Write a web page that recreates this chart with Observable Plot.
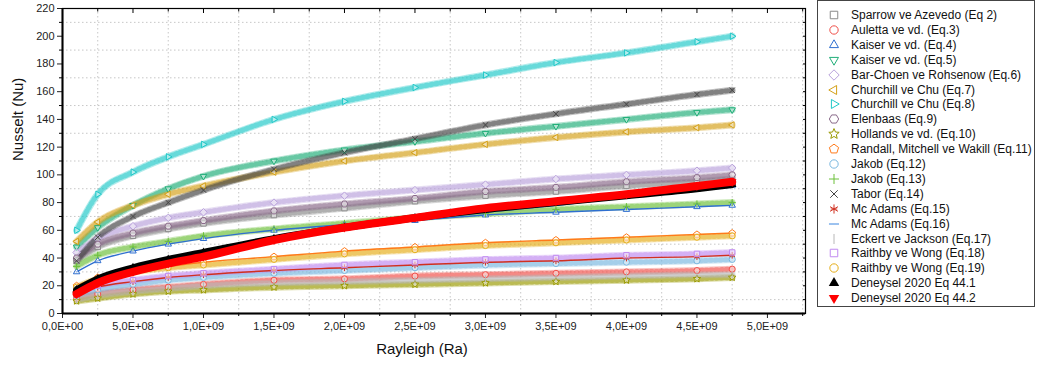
<!DOCTYPE html>
<html><head><meta charset="utf-8">
<script src="https://cdn.jsdelivr.net/npm/d3@7"></script>
<script src="https://cdn.jsdelivr.net/npm/@observablehq/plot@0.6"></script>
<style>
body{margin:0;background:#fff;font-family:"Liberation Sans",Arial,sans-serif;}
#wrap{position:relative;width:1040px;height:369px;overflow:hidden;}
#chart{position:absolute;left:0;top:0;}
#legend{position:absolute;left:817px;top:0px;width:218px;height:307px;border:1px solid #444;box-sizing:border-box;background:#fff;}
.row{position:absolute;left:0;height:15px;display:flex;align-items:center;font-size:12px;color:#111;white-space:nowrap;}
.row svg{margin-left:9px;margin-right:10px;overflow:visible}
</style></head><body>
<div id="wrap"><div id="chart"></div><div id="legend"></div></div>
<script>
// ---- data ----
const rayleigh = [0.1e9, 0.25e9, 0.5e9, 0.75e9, 1.0e9, 1.5e9, 2.0e9, 2.5e9, 3.0e9, 3.5e9, 4.0e9, 4.5e9, 4.75e9];
const sparrow    = [38, 48, 56, 61, 65, 71, 76, 81, 85, 88, 92, 95, 97];
const auletta    = [11, 14, 17, 19, 21, 24, 25, 27, 28, 29, 30, 31, 32];
const kaiser4    = [30, 38, 45, 50, 54, 60, 64, 67, 71, 73, 75, 77, 78];
const kaiser5    = [48, 62, 78, 90, 99, 110, 118, 124, 130, 135, 140, 145, 147];
const barChoen   = [44, 54, 63, 69, 73, 80, 85, 89, 93, 97, 100, 103, 105];
const churchill7 = [52, 66, 78, 86, 92, 102, 110, 116, 122, 127, 131, 134, 136];
const churchill8 = [60, 86, 102, 113, 122, 140, 153, 163, 172, 181, 188, 196, 200];
const elenbaas   = [40, 50, 58, 63, 67, 74, 79, 83, 88, 91, 95, 98, 100];
const hollands   = [9, 11, 14, 16, 17, 19, 20, 21, 22, 23, 24, 25, 26];
const randall    = [20, 26, 31, 34, 37, 41, 45, 48, 51, 53, 55, 57, 58];
const jakob12    = [13, 17, 21, 24, 26, 29, 31, 33, 35, 36, 37, 38, 39];
const jakob13    = [34, 42, 48, 52, 56, 61, 65, 69, 72, 75, 77, 79, 80];
const tabor      = [38, 55, 70, 80, 89, 104, 116, 126, 136, 144, 151, 158, 161];
const mcAdams15  = [14, 19, 23, 26, 28, 31, 33, 35, 37, 38, 40, 41, 42];
const mcAdams16  = [19, 26, 33, 38, 43, 52, 60, 67, 73, 78, 84, 89, 91];
const eckert     = [10, 13, 16, 18, 20, 22, 23, 24, 25, 26, 27, 28, 28];
const raithby18  = [15, 20, 24, 27, 29, 32, 35, 37, 39, 40, 42, 43, 44];
const raithby19  = [19, 25, 30, 33, 35, 39, 43, 46, 49, 51, 53, 55, 56];
const deney441   = [17, 25, 33, 39, 44, 54, 62, 69, 75, 80, 85, 90, 93];
const deney442   = [14, 22, 30, 36, 41, 53, 62, 69, 76, 81, 86, 92, 95];

const seriesNames = [
  "Sparrow ve Azevedo (Eq 2)", "Auletta ve vd. (Eq.3)", "Kaiser ve vd. (Eq.4)", "Kaiser ve vd. (Eq.5)",
  "Bar-Choen ve Rohsenow (Eq.6)", "Churchill ve Chu (Eq.7)", "Churchill ve Chu (Eq.8)", "Elenbaas (Eq.9)",
  "Hollands ve vd. (Eq.10)", "Randall, Mitchell ve Wakill (Eq.11)", "Jakob (Eq.12)", "Jakob (Eq.13)",
  "Tabor (Eq.14)", "Mc Adams (Eq.15)", "Mc Adams (Eq.16)", "Eckert ve Jackson (Eq.17)",
  "Raithby  ve Wong (Eq.18)", "Raithby  ve Wong (Eq.19)", "Deneysel 2020 Eq 44.1", "Deneysel 2020 Eq 44.2"
];
const seriesValues = [sparrow, auletta, kaiser4, kaiser5, barChoen, churchill7, churchill8, elenbaas,
  hollands, randall, jakob12, jakob13, tabor, mcAdams15, mcAdams16, eckert, raithby18, raithby19, deney441, deney442];

const xTickValues = d3.range(0, 5.01e9, 5e8);
const yTickValues = d3.range(0, 221, 20);

// ---- styles ----
const colors = ["#8a8a8a", "#f0504a", "#2f6fd0", "#1fae78", "#b9a2dc", "#d4a017", "#1fc8c8", "#8a6a8a",
  "#9a9a00", "#ff7a1a", "#7ab8e0", "#6cc03a", "#444444", "#d03020", "#3a86e0", "#b8b8b8",
  "#c08af0", "#e6ae1a", "#000000", "#ff0000"];
const thinLine = [2, 9, 13, 14]; // series drawn as thin lines in the reference

function poly(angles, k = 0.62) {
  return {draw(ctx, size) {
    const r = Math.sqrt(size) * k;
    angles.forEach((a, i) => { const t = a * Math.PI / 180; const px = r * Math.cos(t), py = r * Math.sin(t); i ? ctx.lineTo(px, py) : ctx.moveTo(px, py); });
    ctx.closePath();
  }};
}
function starSym(k) {
  return {draw(ctx, size) {
    const R = Math.sqrt(size) * k, r = R * 0.45;
    for (let i = 0; i < 10; i++) { const t = (-90 + i * 36) * Math.PI / 180; const rr = i % 2 ? r : R; i ? ctx.lineTo(rr * Math.cos(t), rr * Math.sin(t)) : ctx.moveTo(rr * Math.cos(t), rr * Math.sin(t)); }
    ctx.closePath();
  }};
}
const triUp = poly([-90, 30, 150]);
const triDown = poly([90, 210, 330]);
const triLeft = poly([180, 300, 60]);
const triRight = poly([0, 120, 240]);
const pentagon = poly([-90, -18, 54, 126, 198], 0.58);
const hexagon = poly([0, 60, 120, 180, 240, 300], 0.56);
const star = starSym(0.65);
const vbar = {draw(ctx, size) { const r = Math.sqrt(size) * 0.6; ctx.moveTo(0, -r); ctx.lineTo(0, r); }};
const hdash = {draw(ctx, size) { const r = Math.sqrt(size) * 0.6; ctx.moveTo(-r, 0); ctx.lineTo(r, 0); }};
const plus = {draw(ctx, size) { const r = Math.sqrt(size) * 0.6; ctx.moveTo(-r, 0); ctx.lineTo(r, 0); ctx.moveTo(0, -r); ctx.lineTo(0, r); }};
const times = {draw(ctx, size) { const r = Math.sqrt(size) * 0.45; ctx.moveTo(-r, -r); ctx.lineTo(r, r); ctx.moveTo(-r, r); ctx.lineTo(r, -r); }};
const asterisk = {draw(ctx, size) { const r = Math.sqrt(size) * 0.55; for (const a of [0, 60, 120]) { const t = (a + 90) * Math.PI / 180; ctx.moveTo(r * Math.cos(t), r * Math.sin(t)); ctx.lineTo(-r * Math.cos(t), -r * Math.sin(t)); } const q = r * 0.7; ctx.moveTo(-q, 0); ctx.lineTo(q, 0); }};
const square = {draw(ctx, size) { const r = Math.sqrt(size) * 0.45; ctx.rect(-r, -r, 2 * r, 2 * r); }};
const diamond = poly([0, 90, 180, 270], 0.62);
const circle = {draw(ctx, size) { const r = Math.sqrt(size) * 0.5; ctx.moveTo(r, 0); ctx.arc(0, 0, r, 0, 2 * Math.PI); }};
const symbols = [square, circle, triUp, triDown, diamond, triLeft, triRight, hexagon,
  star, pentagon, circle, plus, times, asterisk, hdash, vbar,
  square, circle, triUp, triDown];
const filled = seriesNames.map((_, i) => i >= 18);

// ---- table ----
const table = seriesValues.map((vals, s) => vals.map((v, i) => ({x: rayleigh[i], y: v, s})));

const fmtX = d => {
  if (d === 0) return "0,0E+00";
  const e = Math.floor(Math.log10(d) + 1e-9);
  return (d / 10 ** e).toFixed(1).replace(".", ",") + "E+" + String(e).padStart(2, "0");
};

const marks = [];
marks.push(Plot.gridX(xTickValues.map(t => t + 2.5e8), {stroke: "#999", strokeOpacity: 0.55, strokeDasharray: "1.5,2.5"}));
marks.push(Plot.gridY(yTickValues.slice(0, -1).map(t => t + 10), {stroke: "#999", strokeOpacity: 0.55, strokeDasharray: "1.5,2.5"}));

const order = d3.range(18);
for (const s of order) {
  if (thinLine.includes(s)) continue;
  marks.push(Plot.line(table[s], {x: "x", y: "y", stroke: colors[s], strokeWidth: 7, strokeOpacity: 0.35, curve: "monotone-x"}));
  marks.push(Plot.line(table[s], {x: "x", y: "y", stroke: colors[s], strokeWidth: 5, strokeOpacity: 0.5, strokeDasharray: "2,3", curve: "monotone-x"}));
}
for (const s of order) {
  if (thinLine.includes(s)) {
    marks.push(Plot.line(table[s], {x: "x", y: "y", stroke: colors[s], strokeWidth: 1.4, curve: "monotone-x"}));
  }
  marks.push(Plot.dot(table[s], {x: "x", y: "y", symbol: symbols[s], stroke: colors[s], fill: "white", fillOpacity: 0.5, strokeWidth: 1, r: 3.4}));
}
for (const s of [18, 19]) {
  marks.push(Plot.line(table[s], {x: "x", y: "y", stroke: colors[s], strokeWidth: s === 19 ? 8 : 7, curve: "monotone-x"}));
  marks.push(Plot.dot(table[s], {x: "x", y: "y", symbol: symbols[s], fill: colors[s], r: 4.5}));
}

const axStyle = {fontSize: 11, color: "#222"};
marks.push(Plot.axisY(yTickValues, {anchor: "left", tickSize: 5, tickPadding: 3, ...axStyle, label: null}));
marks.push(Plot.axisY(yTickValues.slice(0, -1).map(t => t + 10), {anchor: "left", tickSize: 3, tickFormat: () => "", label: null}));
marks.push(Plot.axisY(d3.range(10, 220, 10), {anchor: "right", tickSize: 3, dx: -3, tickFormat: () => "", label: null}));
marks.push(Plot.axisX(xTickValues, {anchor: "bottom", tickSize: 5, tickPadding: 4, tickFormat: fmtX, ...axStyle, label: null}));
marks.push(Plot.axisX(xTickValues.map(t => t + 2.5e8), {anchor: "bottom", tickSize: 3, tickFormat: () => "", label: null}));
marks.push(Plot.axisX(xTickValues.slice(1), {anchor: "top", tickSize: 4, dy: 4, tickFormat: () => "", label: null}));
marks.push(Plot.axisX(xTickValues.map(t => t + 2.5e8), {anchor: "top", tickSize: 2.5, dy: 2.5, tickFormat: () => "", label: null}));
marks.push(Plot.frame({stroke: "#000", strokeWidth: 1.2}));
marks.push(Plot.ruleX([0], {stroke: "#000", strokeWidth: 2}));
marks.push(Plot.ruleY([0], {stroke: "#000", strokeWidth: 2}));
marks.push(Plot.text(["Rayleigh (Ra)"], {frameAnchor: "bottom", dy: 40, dx: -12, fontSize: 15, fill: "#111"}));
marks.push(Plot.text(["Nusselt (Nu)"], {frameAnchor: "left", dx: -44, rotate: -90, fontSize: 15, fill: "#111"}));

const chart = Plot.plot({
  width: 812, height: 369,
  marginLeft: 62, marginRight: 7, marginTop: 8, marginBottom: 56,
  style: {fontFamily: "Liberation Sans, Arial, sans-serif", fontSize: "11px", background: "white", overflow: "visible"},
  x: {domain: [0, 5.27e9]},
  y: {domain: [0, 220]},
  marks
});
document.getElementById("chart").appendChild(chart);

const legend = document.getElementById("legend");
seriesNames.forEach((name, i) => {
  const row = document.createElement("div");
  row.className = "row";
  row.style.top = (6.5 + i * 14.9) + "px";
  const path = d3.symbol(symbols[i], i >= 18 ? 95 : 70)();
  const fillAttr = filled[i] ? colors[i] : "none";
  const strokeAttr = filled[i] ? "none" : colors[i];
  row.innerHTML = `<svg width="14" height="14" viewBox="-7 -7 14 14"><path d="${path}" fill="${fillAttr}" stroke="${strokeAttr}" stroke-width="1"/></svg><span>${name}</span>`;
  legend.appendChild(row);
});
</script>
</body></html>
